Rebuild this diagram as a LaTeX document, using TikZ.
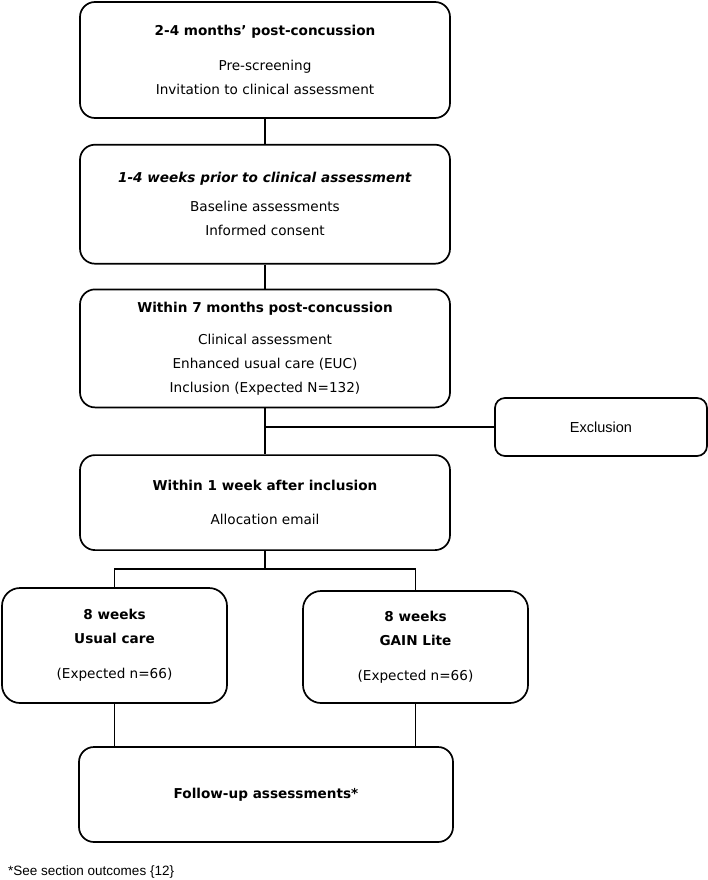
\documentclass[tikz,border=0pt]{standalone}
\usepackage{fontspec}
\setmainfont{DejaVu Sans}
\newfontfamily\arialfont{Liberation Sans}
\usetikzlibrary{positioning, calc}

\begin{document}
\begin{tikzpicture}[
    x=1pt, y=-1pt,
    stage/.style={draw, line width=1.7pt, rounded corners=15pt, minimum width=370pt, align=center, inner sep=0pt, font=\fontsize{13.6}{24}\selectfont},
    arm/.style={stage, minimum width=225pt, rounded corners=18pt},
    link/.style={line width=1.6pt}
]
    \useasboundingbox (0,0) rectangle (708,880);

    % Main column
    \node[stage, minimum height=116pt] (prescreen) at (265,60) {\textbf{2-4 months’ post-concussion}\\[11pt]Pre-screening\\Invitation to clinical assessment};
    \node[stage, minimum height=119pt, below=25pt of prescreen] (baseline) {\textbf{\textit{1-4 weeks prior to clinical assessment}}\\[5pt]Baseline assessments\\Informed consent};
    \node[stage, minimum height=118pt, below=24pt of baseline] (clinical) {\textbf{Within 7 months post-concussion}\\[8pt]Clinical assessment\\Enhanced usual care (EUC)\\Inclusion (Expected N=132)};
    \node[stage, minimum height=95pt, below=46pt of clinical] (alloc) {\textbf{Within 1 week after inclusion}\\[10pt]Allocation email};

    % Exclusion
    \node[stage, minimum width=212pt, minimum height=58pt, rounded corners=10pt, font=\arialfont\fontsize{14.5}{16}\selectfont] (excl) at (601,427) {Exclusion};

    % Arms
    \node[arm, minimum height=115pt] (usual) at (114.5,645.5) {\textbf{8 weeks}\\\textbf{Usual care}\\[11pt](Expected n=66)};
    \node[arm, minimum height=112pt] (gain) at (415.5,647) {\textbf{8 weeks}\\\textbf{GAIN Lite}\\[11pt](Expected n=66)};

    % Follow-up
    \node[stage, minimum width=374pt, minimum height=95pt] (follow) at (266,794.5) {\textbf{Follow-up assessments*}};

    % Footnote
    \node[right, inner sep=0pt, font=\arialfont\fontsize{13.5}{15}\selectfont] (note) at (8,872) {*See section outcomes \{12\}};

    % Connections
    \coordinate (branch) at (clinical.south |- excl.west);
    \coordinate (split) at ($(alloc.south)!0.5!(alloc.south |- usual.north)$);
    \draw[link] (prescreen) -- (baseline);
    \draw[link] (baseline) -- (clinical);
    \draw[link] (clinical) -- (alloc);
    \draw[link] (branch) -- (excl);
    \draw[link] (alloc) -- (split) -| (usual);
    \draw[link] (split) -| (gain);
    \draw[link] (usual) -- (usual.south |- follow.north);
    \draw[link] (gain) -- (gain.south |- follow.north);
\end{tikzpicture}
\end{document}
